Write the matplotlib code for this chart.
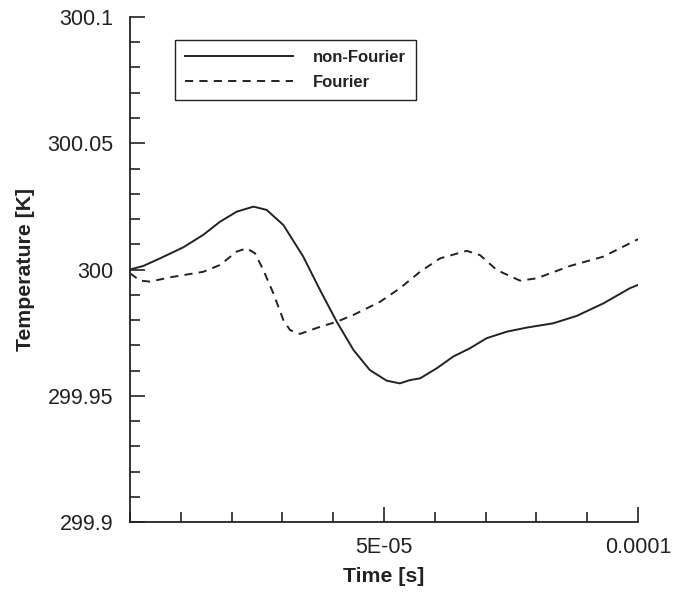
import matplotlib.pyplot as plt
from matplotlib.ticker import MultipleLocator

plt.rcParams['font.family'] = ['Liberation Sans', 'DejaVu Sans']

# non-Fourier (solid)
t_nf = [0, 0.26e-5, 0.59e-5, 1.05e-5, 1.44e-5, 1.77e-5, 2.10e-5, 2.43e-5, 2.69e-5,
        3.02e-5, 3.41e-5, 3.74e-5, 4.07e-5, 4.40e-5, 4.72e-5, 5.05e-5, 5.31e-5,
        5.51e-5, 5.71e-5, 6.04e-5, 6.36e-5, 6.69e-5, 7.02e-5, 7.42e-5, 7.81e-5,
        8.33e-5, 8.79e-5, 9.32e-5, 9.84e-5, 1e-4]
T_nf = [300.0, 300.0014, 300.0044, 300.0088, 300.0137, 300.0189, 300.0229, 300.0249,
        300.0236, 300.0176, 300.0051, 299.9919, 299.9793, 299.9681, 299.9602,
        299.9560, 299.9549, 299.9562, 299.9569, 299.9609, 299.9655, 299.9688,
        299.9728, 299.9754, 299.9770, 299.9787, 299.9816, 299.9866, 299.9926, 299.9939]

# Fourier (dashed)
t_f = [0, 0.197e-5, 0.394e-5, 0.787e-5, 1.443e-5, 1.772e-5, 2.100e-5, 2.297e-5,
       2.461e-5, 2.624e-5, 2.821e-5, 3.018e-5, 3.150e-5, 3.346e-5, 3.740e-5,
       4.069e-5, 4.396e-5, 4.921e-5, 5.315e-5, 5.709e-5, 6.102e-5, 6.628e-5,
       6.890e-5, 7.219e-5, 7.677e-5, 8.006e-5, 8.661e-5, 9.317e-5, 1e-4]
T_f = [299.9985, 299.9956, 299.9952, 299.9969, 299.9991, 300.0018, 300.0071, 300.0084,
       300.0064, 299.9998, 299.9906, 299.9800, 299.9760, 299.9745, 299.9773,
       299.9793, 299.9820, 299.9872, 299.9926, 299.9991, 300.0044, 300.0074,
       300.0057, 299.9998, 299.9956, 299.9965, 300.0014, 300.0051, 300.0120]

xticks = [5e-5, 1e-4]
xtick_labels = ['5E-05', '0.0001']
yticks = [299.9, 299.95, 300.0, 300.05, 300.1]
ytick_labels = ['299.9', '299.95', '300', '300.05', '300.1']

ink = '#222222'

fig = plt.figure(figsize=(6.85, 5.92), dpi=100)
ax = fig.add_axes([0.1898, 0.1182, 0.7416, 0.8531])

ax.plot(t_nf, T_nf, color=ink, lw=1.4, label='non-Fourier')
ax.plot(t_f, T_f, color=ink, lw=1.4, linestyle=(0, (4.2, 3.2)), label='Fourier')

ax.set_xlim(0, 1e-4)
ax.set_ylim(299.9, 300.1)

for s in ['top', 'right']:
    ax.spines[s].set_visible(False)
for s in ['left', 'bottom']:
    ax.spines[s].set_linewidth(1.3)
    ax.spines[s].set_color(ink)

ax.set_xticks(xticks, xtick_labels)
ax.xaxis.set_minor_locator(MultipleLocator(1e-5))
ax.set_yticks(yticks, ytick_labels)
ax.yaxis.set_minor_locator(MultipleLocator(0.01))

ax.tick_params(which='both', direction='in', color=ink, width=1.2, labelsize=15.5,
               labelcolor=ink)
ax.tick_params(axis='x', which='both', pad=11)
ax.tick_params(axis='y', which='both', pad=12)
ax.tick_params(which='major', length=11)
ax.tick_params(which='minor', length=7)

ax.set_xlabel('Time [s]', fontsize=15.3, fontweight='bold', color=ink)
ax.set_ylabel('Temperature [K]', fontsize=15.3, fontweight='bold', color=ink)
ax.xaxis.set_label_coords(0.5, -0.090)
ax.yaxis.set_label_coords(-0.188, 0.5)

leg = ax.legend(loc='upper left', bbox_to_anchor=(0.0886, 0.954), borderaxespad=0,
                prop={'size': 12, 'weight': 'bold'}, handlelength=6.5, handletextpad=1.2,
                fancybox=False, framealpha=1, edgecolor=ink, borderpad=0.6,
                labelspacing=0.6)
leg.get_frame().set_linewidth(1.0)
for txt in leg.get_texts():
    txt.set_color(ink)

fig.savefig('out.png', dpi=100)
